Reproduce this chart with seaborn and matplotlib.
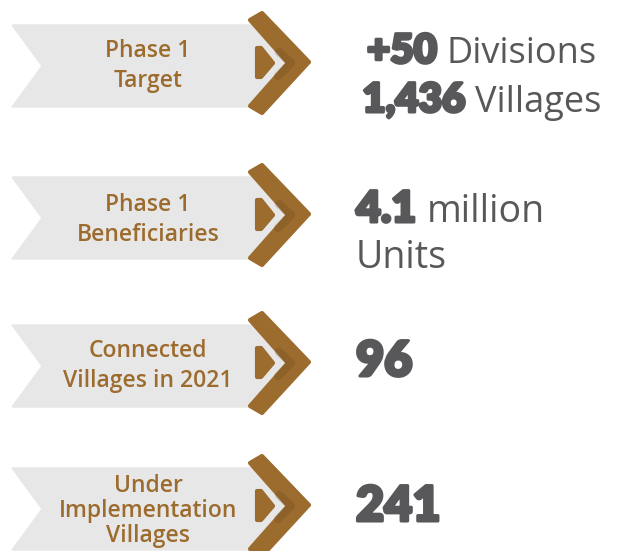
import numpy as np
import matplotlib.pyplot as plt
import matplotlib.patheffects as pe
import seaborn as sns
from matplotlib.patches import Polygon

# infographic content
labels = ['Phase 1\nTarget', 'Phase 1\nBeneficiaries',
          'Connected\nVillages in 2021', 'Under\nImplementation\nVillages']
figures = [['+50', '1,436'], ['4.1', ''], ['96'], ['241']]
units = [['Divisions', 'Villages'], ['million', 'Units'], [''], ['']]

sns.set_theme(style='white')
plt.rcParams['font.family'] = ['Open Sans', 'DejaVu Sans']

BROWN = '#9c6b2e'
GREY = '#e7e7e7'
INK = '#58585a'

# layout: chevron tip height of each row, shapes relative to it
row_y = [62, 214, 362, 505]
band = np.array([[12, -37], [256, -37], [289, 4], [256, 45], [12, 45], [42, 4]])
chev = np.array([[250, -42], [262, -49], [309, 0], [262, 51], [250, 44], [288, 1]])
nub = np.array([[257, -14], [261, -14], [273, 1], [261, 15], [257, 15]])
shade = np.array([[279, -10], [291, 1], [278, 14]])

num_size = [29, 31, 35, 35]
unit_size = [26, 27, 27, 27]
line_gap = [49, 46, 0, 0]
base_off = [1, 8, 14, 16]
lab_off = [4, 6, 4, 6]
lab_space = [1.3, 1.3, 1.3, 1.08]

fig = plt.figure(figsize=(6.23, 5.51), dpi=100)
ax = fig.add_axes([0, 0, 1, 1])
ax.set_xlim(0, 623)
ax.set_ylim(551, 0)
ax.axis('off')
renderer = fig.canvas.get_renderer()
heavy = [pe.withStroke(linewidth=2.2, foreground=INK)]


def width(t):
    bb = t.get_window_extent(renderer=renderer)
    return bb.width


for i, lab in enumerate(labels):
    y0 = row_y[i]
    off = np.array([0, y0])
    ax.add_patch(Polygon(band + off, closed=True, fc=GREY, ec=GREY, lw=1))
    ax.add_patch(Polygon(chev + off, closed=True, fc=BROWN, ec=BROWN, lw=3, joinstyle='round'))
    ax.plot(shade[:, 0], shade[:, 1] + y0, color='#5e3f16', alpha=0.22, lw=6,
            solid_joinstyle='round', solid_capstyle='round')
    ax.add_patch(Polygon(nub + off, closed=True, fc=BROWN, ec=BROWN, lw=3, joinstyle='round'))
    ax.text(148, y0 + lab_off[i], lab, ha='center', va='center', color=BROWN, fontsize=16.5,
            fontweight='semibold', linespacing=lab_space[i])

    for j, (num, unit) in enumerate(zip(figures[i], units[i])):
        yb = y0 + base_off[i] + j * line_gap[i]
        t1 = ax.text(0, yb, num, ha='left', va='baseline', color=INK,
                     fontsize=num_size[i], fontweight='heavy', family=['Lato'],
                     path_effects=heavy)
        t2 = ax.text(0, yb, unit, ha='left', va='baseline', color=INK,
                     fontsize=unit_size[i], fontweight='medium')
        w1 = width(t1) + 2 if num else 0
        gap = 8 if num and unit else 0
        w2 = width(t2) if unit else 0
        if i == 0:
            x0 = 482 - (w1 + gap + w2) / 2
        else:
            x0 = 356
        t1.set_x(x0)
        t2.set_x(x0 + w1 + gap)

fig.savefig('out.png', dpi=100, facecolor='white')
